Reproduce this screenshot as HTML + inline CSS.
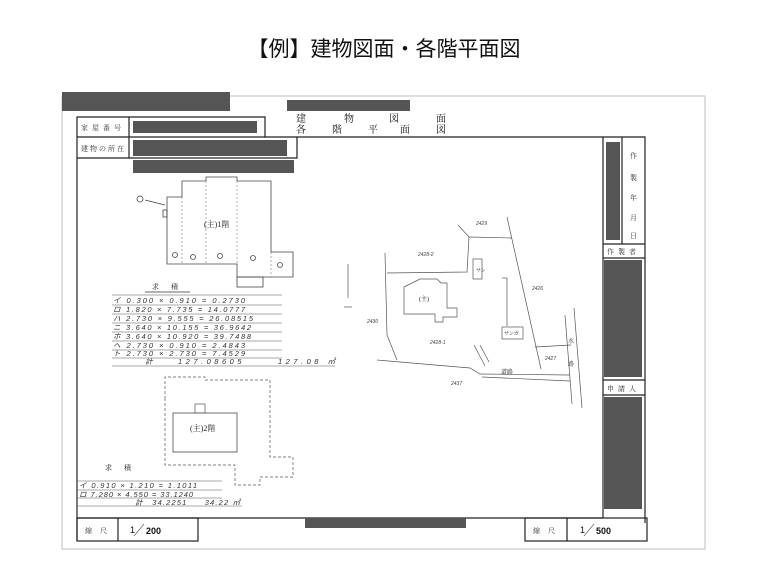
<!DOCTYPE html>
<html><head><meta charset="utf-8"><style>
html,body{margin:0;padding:0;background:#fff;}
body{width:768px;height:568px;overflow:hidden;position:relative;font-family:"Liberation Sans","Noto Sans CJK JP",sans-serif;}
svg{position:absolute;left:0;top:0;}
</style></head><body>
<svg width="768" height="568" viewBox="0 0 768 568" font-family="'Liberation Serif','Noto Serif CJK SC',serif">
<text x="384" y="56" text-anchor="middle" font-size="21" font-family="'Liberation Sans','Noto Sans CJK JP',sans-serif" fill="#111">【例】建物図面・各階平面図</text>
<rect x="62" y="96" width="643" height="453" fill="none" stroke="#c8c8c8" stroke-width="1.2"/>
<rect x="62" y="92" width="168" height="19" fill="#555"/>
<rect x="287" y="100" width="123" height="11" fill="#555"/>
<g stroke="#222" stroke-width="1.2" fill="none">
<polyline points="77,541 77,117 265,117 265,137 645,137 645,523"/>
<line x1="77" y1="137" x2="265" y2="137"/>
<polyline points="77,158 297,158 297,137"/>
<line x1="129" y1="117" x2="129" y2="158"/>
<line x1="77" y1="518" x2="603" y2="518"/>
<rect x="77" y="518" width="121" height="23"/>
<line x1="118" y1="518" x2="118" y2="541"/>
<rect x="525" y="518" width="122" height="23"/>
<line x1="567" y1="518" x2="567" y2="541"/>
<line x1="603" y1="137" x2="603" y2="518"/>
<line x1="622" y1="137" x2="622" y2="244"/>
<line x1="603" y1="244" x2="645" y2="244"/>
<line x1="603" y1="258" x2="645" y2="258"/>
<line x1="603" y1="380" x2="645" y2="380"/>
<line x1="603" y1="395" x2="645" y2="395"/>
</g>
<rect x="133" y="121" width="124" height="12" fill="#555"/>
<rect x="133" y="140" width="154" height="16" fill="#555"/>
<rect x="133" y="160" width="161" height="13" fill="#555"/>
<rect x="606" y="142" width="14" height="98" fill="#555"/>
<rect x="604" y="260" width="38" height="117" fill="#555"/>
<rect x="604" y="397" width="38" height="112" fill="#555"/>
<rect x="305" y="518" width="161" height="10" fill="#555"/>
<g font-size="7" fill="#333">
<text x="81" y="130" letter-spacing="4">家屋番号</text>
<text x="81" y="151" letter-spacing="2">建物の所在</text>
<text x="630" y="158">作</text><text x="630" y="180">製</text><text x="630" y="200">年</text><text x="630" y="220">月</text><text x="630" y="238">日</text>
<text x="607" y="254" letter-spacing="4">作製者</text>
<text x="607" y="391" letter-spacing="4">申請人</text>
<text x="85" y="533" letter-spacing="8">縮尺</text>
<text x="533" y="533" letter-spacing="8">縮尺</text>
</g>
<g font-size="10" fill="#111">
<text x="296" y="122">建</text><text x="344" y="122">物</text><text x="389" y="122">図</text><text x="436" y="122">面</text>
<text x="296" y="133">各</text><text x="332" y="133">階</text><text x="368" y="133">平</text><text x="400" y="133">面</text><text x="436" y="133">図</text>
</g>
<g font-size="9" font-family="'Liberation Sans',sans-serif" fill="#111">
<text x="130" y="533">1</text><line x1="134" y1="536" x2="144" y2="524" stroke="#555" stroke-width="0.6"/><text x="146" y="534" font-weight="bold">200</text>
<text x="580" y="533">1</text><line x1="584" y1="536" x2="594" y2="524" stroke="#555" stroke-width="0.6"/><text x="596" y="534" font-weight="bold">500</text>
</g>
<g stroke="#444" stroke-width="0.8" fill="none">
<polygon points="167,197 182,197 182,181 206,181 206,177 237,177 237,181 271,181 271,252 293,252 293,277 237,277 237,264 167,264"/>
<rect x="237" y="277" width="26" height="10"/>
<rect x="163" y="210" width="4" height="7"/>
<g stroke-dasharray="2,2" stroke="#999"><line x1="182" y1="197" x2="182" y2="264"/><line x1="206" y1="181" x2="206" y2="264"/><line x1="237" y1="181" x2="237" y2="264"/><line x1="271" y1="252" x2="271" y2="277"/></g>
<line x1="145" y1="200" x2="165" y2="205"/>
<circle cx="140" cy="199" r="3"/>
<circle cx="175" cy="255" r="2.5"/><circle cx="193" cy="257" r="2.5"/><circle cx="220" cy="256" r="2.5"/><circle cx="253" cy="258" r="2.5"/><circle cx="280" cy="265" r="2.5"/>
</g>
<text x="204" y="227" font-size="8" fill="#222">(主)1階</text>
<text x="152" y="289" font-size="7" fill="#222" letter-spacing="12">求積</text>
<line x1="145" y1="292" x2="190" y2="292" stroke="#333" stroke-width="0.7"/>
<g stroke="#555" stroke-width="0.6">
<line x1="112" y1="295" x2="282" y2="295"/><line x1="112" y1="305" x2="282" y2="305"/><line x1="112" y1="314" x2="282" y2="314"/><line x1="112" y1="323" x2="282" y2="323"/><line x1="112" y1="332" x2="282" y2="332"/><line x1="112" y1="341" x2="282" y2="341"/><line x1="112" y1="350" x2="282" y2="350"/><line x1="112" y1="358" x2="282" y2="358"/><line x1="112" y1="366" x2="335" y2="366"/>
</g>
<g font-size="7.5" font-style="italic" fill="#333" font-family="'Liberation Sans',sans-serif">
<text x="113" y="303" textLength="132">イ 0.300 × 0.910 = 0.2730</text>
<text x="113" y="312" textLength="132">ロ 1.820 × 7.735 = 14.0777</text>
<text x="113" y="321" textLength="140">ハ 2.730 × 9.555 = 26.08515</text>
<text x="113" y="330" textLength="138">ニ 3.640 × 10.155 = 36.9642</text>
<text x="113" y="339" textLength="138">ホ 3.640 × 10.920 = 39.7488</text>
<text x="113" y="348" textLength="132">ヘ 2.730 × 0.910 = 2.4843</text>
<text x="113" y="356" textLength="132">ト 2.730 × 2.730 = 7.4529</text>
<text x="145" y="364" textLength="190">計　　127.08605　　　127.08 ㎡</text>
</g>
<g stroke="#555" stroke-width="0.7" fill="none">
<polyline stroke-dasharray="3,2" points="165,398 165,465 235,465 235,485 260,485 260,477 293,477 293,457 270,457 270,380 205,380 205,377 165,377 165,398"/>
<rect x="173" y="413" width="64" height="39" stroke="#333"/>
<rect x="195" y="404" width="10" height="9"/>
</g>
<text x="190" y="431" font-size="8" fill="#222">(主)2階</text>
<text x="105" y="470" font-size="7" fill="#222" letter-spacing="12">求積</text>
<g stroke="#555" stroke-width="0.6"><line x1="77" y1="481" x2="222" y2="481"/><line x1="77" y1="490" x2="222" y2="490"/><line x1="77" y1="498" x2="222" y2="498"/><line x1="77" y1="506" x2="242" y2="506"/></g>
<g font-size="7.5" font-style="italic" fill="#333" font-family="'Liberation Sans',sans-serif">
<text x="79" y="488" textLength="118">イ 0.910 × 1.210 = 1.1011</text>
<text x="79" y="497" textLength="114">ロ 7.280 × 4.550 = 33.1240</text>
<text x="135" y="505" textLength="105">計　34.2251　　34.22 ㎡</text>
</g>
<g stroke="#555" stroke-width="0.7" fill="none">
<polyline points="385,253 387,335 397,360"/>
<polyline points="387,273 467,272 469,237 458,225"/>
<line x1="469" y1="237" x2="512" y2="238"/>
<line x1="507" y1="217" x2="541" y2="369"/>
<polyline points="377,360 470,368 480,374 570,375"/>
<line x1="482" y1="377" x2="570" y2="381"/>
<line x1="535" y1="347" x2="571" y2="345"/>
<line x1="565" y1="315" x2="572" y2="404"/>
<line x1="574" y1="308" x2="582" y2="408"/>
<line x1="474" y1="345" x2="485" y2="366"/>
<line x1="480" y1="345" x2="489" y2="362"/>
<polygon points="404,287 420,279 437,279 441,283 447,283 447,308 457,308 457,317 443,317 443,322 435,322 435,314 404,314"/>
<rect x="473" y="259" width="9" height="20"/>
<rect x="502" y="327" width="21" height="12"/>
<line x1="502" y1="278" x2="507" y2="278"/><line x1="507" y1="278" x2="507" y2="326"/>
<line x1="348" y1="264" x2="348" y2="298"/>
<line x1="344" y1="307" x2="352" y2="307"/>
</g>
<g font-size="5" font-style="italic" fill="#444" font-family="'Liberation Sans',sans-serif">
<text x="476" y="225">2429</text><text x="418" y="256">2428-2</text><text x="532" y="290">2426</text>
<text x="367" y="323">2430</text><text x="430" y="344">2428-1</text><text x="545" y="360">2427</text><text x="451" y="385">2437</text>
</g>
<g font-size="6" fill="#222"><text x="419" y="301">(主)</text><text x="501" y="374">道路</text><text x="568" y="343">水</text><text x="568" y="366">路</text>
<text x="476" y="272" font-size="5">サン</text><text x="504" y="335" font-size="5">サンガ</text></g>
</svg>
</body></html>
